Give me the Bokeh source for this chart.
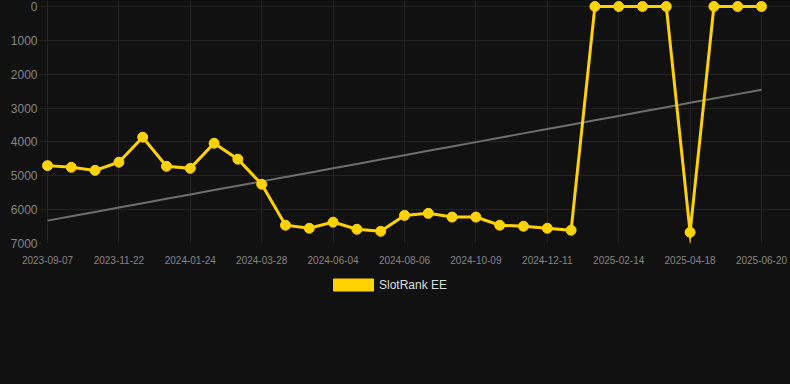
import numpy as np
from bokeh.plotting import figure
from bokeh.layouts import column
from bokeh.models import (Range1d, FixedTicker, Legend, LegendItem,
                          GlobalInlineStyleSheet)
from bokeh.embed import file_html
from bokeh.resources import INLINE

# ---- data ----
series_name = "SlotRank EE"
tick_labels = ["2023-09-07", "2023-11-22", "2024-01-24", "2024-03-28",
               "2024-06-04", "2024-08-06", "2024-10-09", "2024-12-11",
               "2025-02-14", "2025-04-18", "2025-06-20"]
rank = [4700, 4750, 4840, 4600, 3860, 4720, 4780, 4040, 4510, 5250,
        6460, 6550, 6370, 6580, 6640, 6170, 6110, 6220, 6220, 6460,
        6490, 6550, 6610, 0, 0, 0, 0, 6670, 0, 0, 0]
y_ticks = [0, 1000, 2000, 3000, 4000, 5000, 6000, 7000]
label_step = 3

YELLOW = "#ffd200"
BG = "#111111"
GRID = "#232323"

idx = np.arange(len(rank))
slope, intercept = np.polyfit(idx, np.array(rank, dtype=float), 1)
trend = intercept + slope * idx

# ---- main chart ----
p = figure(width=790, height=270, output_backend="svg", toolbar_location=None,
           x_range=Range1d(-0.2521, 31.2185), y_range=Range1d(7000, -177),
           background_fill_color=BG, border_fill_color=BG,
           min_border_left=41, min_border_right=0, min_border_top=0,
           min_border_bottom=27)
p.outline_line_color = None
p.stylesheets = [GlobalInlineStyleSheet(css="html, body { background: #111111; }")]

p.line(idx, trend, line_color="#6e6e6e", line_width=2)
p.line(idx, rank, line_color=YELLOW, line_width=3, line_join="miter")
p.scatter(idx, rank, marker="circle", size=10, fill_color=YELLOW,
          line_color=YELLOW)

xt = [i * label_step for i in range(len(tick_labels))]
p.xaxis.ticker = FixedTicker(ticks=xt)
p.xaxis.major_label_overrides = {t: lab for t, lab in zip(xt, tick_labels)}
p.yaxis.ticker = FixedTicker(ticks=y_ticks)

for ax in (p.xaxis[0], p.yaxis[0]):
    ax.axis_line_color = None
    ax.minor_tick_line_color = None
    ax.major_label_text_font = "Liberation Sans"
    ax.major_label_text_color = "#858585"

p.xaxis.major_label_text_font_size = "10px"
p.xaxis.major_tick_out = 0
p.xaxis.major_tick_in = 0
p.xaxis.major_label_standoff = 12

p.yaxis.major_label_text_font_size = "12px"
p.yaxis.major_tick_out = 2
p.yaxis.major_tick_in = 0
p.yaxis.major_tick_line_color = GRID
p.yaxis.major_label_standoff = 2

p.xgrid.grid_line_color = GRID
p.ygrid.grid_line_color = GRID

# ---- legend strip ----
lf = figure(width=790, height=114, output_backend="svg", toolbar_location=None,
            x_range=Range1d(0, 1), y_range=Range1d(0, 1),
            x_axis_type=None, y_axis_type=None,
            background_fill_color=BG, border_fill_color=BG, min_border=0)
lf.outline_line_color = None
lf.grid.visible = False
swatch = lf.quad(left=[np.nan], right=[np.nan], top=[np.nan], bottom=[np.nan],
                 fill_color=YELLOW, line_color=YELLOW)

legend = Legend(items=[LegendItem(label=series_name, renderers=[swatch])],
                location=(287, 92), orientation="horizontal",
                glyph_width=50, glyph_height=15, label_height=12,
                label_standoff=1, padding=0, margin=0, spacing=0,
                background_fill_alpha=0, border_line_color=None,
                label_text_font="Liberation Sans", label_text_font_size="12px",
                label_text_color="#dddddd")
lf.add_layout(legend, "center")

layout = column(p, lf, spacing=0)
open("out.html", "w").write(file_html(layout, INLINE))
